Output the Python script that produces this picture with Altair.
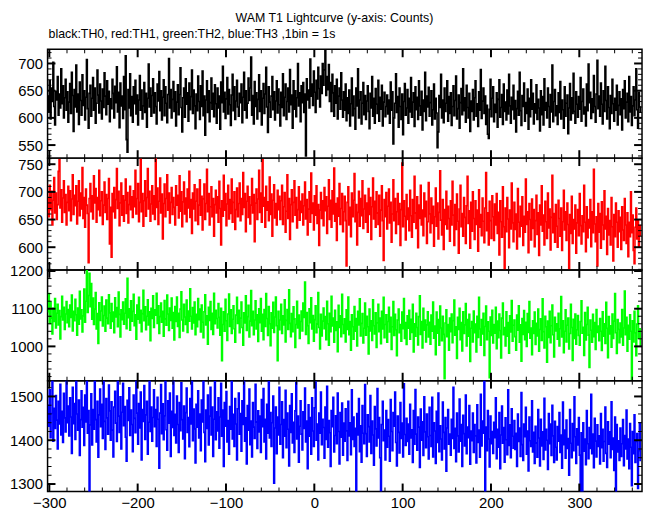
import altair as alt
import pandas as pd

TITLE = "WAM T1 Lightcurve (y-axis: Counts)"
SUBTITLE = "black:TH0, red:TH1, green:TH2, blue:TH3 ,1bin = 1s"
T_START = -302
X_DOMAIN = [-302, 371]
X_MAJOR = [-300, -200, -100, 0, 100, 200, 300]
X_MINOR = [v for v in range(-300, 371, 20) if v % 100 != 0]

th0 = [
640, 612, 668, 598, 655, 630, 702, 621, 587, 649, 633, 676, 605, 644, 618, 690, 626, 659, 600, 637, 671, 614, 648, 592,
629, 663, 608, 684, 641, 575, 652, 620, 697, 611, 644, 588, 666, 632, 605, 679, 623, 650, 596, 638, 707, 617, 581, 645,
660, 603, 636, 674, 614, 655, 590, 627, 688, 642, 609, 662, 631, 598, 653, 619, 683, 640, 606, 668, 625, 649, 593, 635,
617, 671, 645, 600, 658, 628, 694, 611, 647, 582, 664, 622, 640, 599, 676, 615, 714, 560, 537, 652, 618, 681, 604, 639,
592, 657, 626, 669, 607, 642, 587, 633, 678, 614, 651, 598, 622, 665, 610, 645, 583, 636, 699, 620, 655, 603, 641, 672,
609, 646, 621, 589, 662, 631, 685, 613, 650, 596, 638, 670, 604, 657, 627, 591, 643, 709, 618, 652, 600, 634, 667, 612,
648, 585, 629, 661, 606, 643, 692, 619, 574, 637, 655, 601, 672, 625, 646, 594, 664, 615, 639, 688, 608, 651, 622, 580,
644, 613, 677, 630, 597, 659, 621, 686, 604, 640, 568, 633, 668, 610, 650, 593, 628, 673, 616, 645, 602, 661, 626, 590,
655, 618, 640, 579, 666, 628, 695, 611, 647, 599, 635, 674, 607, 652, 624, 586, 642, 680, 613, 657, 597, 631, 669, 620,
603, 645, 628, 662, 591, 638, 684, 614, 650, 600, 627, 673, 632, 655, 712, 605, 641, 589, 667, 621, 646, 598, 634, 679,
612, 650, 587, 636, 663, 608, 644, 693, 620, 573, 657, 629, 601, 640, 676, 615, 648, 596, 631, 668, 609, 653, 624, 585,
647, 619, 681, 604, 638, 662, 597, 630, 655, 611, 689, 624, 642, 581, 668, 616, 650, 602, 637, 700, 622, 646, 593, 659,
628, 665, 610, 644, 530, 672, 633, 651, 618, 708, 640, 662, 623, 686, 647, 610, 669, 635, 693, 654, 620, 677, 645, 700,
660, 688, 724, 641, 676, 652, 698, 630, 665, 612, 680, 646, 603, 659, 627, 671, 598, 640, 655, 616, 683, 633, 601, 648,
614, 662, 595, 637, 608, 651, 585, 626, 673, 604, 640, 617, 579, 655, 622, 690, 600, 633, 648, 589, 627, 665, 606, 641,
597, 631, 659, 612, 580, 645, 618, 676, 603, 636, 590, 654, 625, 608, 669, 594, 638, 616, 660, 585, 629, 647, 602, 621,
642, 607, 633, 590, 666, 614, 648, 552, 600, 627, 681, 610, 639, 583, 655, 621, 597, 644, 569, 630, 663, 605, 618, 652,
590, 636, 611, 674, 601, 629, 646, 584, 657, 615, 638, 597, 668, 622, 605, 649, 578, 633, 612, 684, 595, 640, 620, 656,
603, 628, 650, 587, 615, 662, 598, 636, 609, 545, 574, 641, 619, 680, 600, 633, 591, 655, 612, 627, 668, 594, 639, 608,
646, 586, 621, 659, 604, 632, 677, 598, 617, 642, 581, 628, 654, 606, 690, 613, 637, 592, 660, 619, 600, 645, 575, 631,
612, 652, 596, 637, 668, 603, 626, 584, 648, 614, 689, 599, 631, 655, 608, 640, 588, 623, 570, 562, 616, 671, 602, 636,
657, 593, 625, 610, 646, 583, 634, 670, 601, 619, 643, 588, 662, 612, 629, 596, 651, 607, 680, 622, 590, 638, 615, 660,
598, 632, 574, 617, 649, 605, 684, 613, 586, 641, 621, 664, 594, 628, 608, 653, 579, 636, 602, 670, 616, 645, 589, 626,
609, 661, 597, 634, 618, 576, 650, 606, 639, 587, 672, 614, 628, 600, 655, 621, 583, 643, 611, 697, 593, 630, 652, 604,
622, 588, 646, 610, 667, 598, 633, 615, 581, 657, 603, 627, 642, 571, 618, 663, 596, 637, 608, 682, 612, 590, 648, 625,
601, 639, 616, 674, 594, 630, 653, 607, 620, 585, 662, 613, 699, 628, 647, 599, 635, 610, 678, 621, 592, 644, 706, 617,
640, 603, 664, 625, 589, 650, 612, 695, 632, 598, 657, 619, 580, 641, 608, 671, 626, 594, 636, 614, 660, 587, 623, 648,
606, 635, 578, 652, 617, 668, 600, 629, 645, 593, 676, 611, 639, 586, 622, 657, 604, 633, 690, 615, 581, 647, 620, 609,
]

th1 = [
690, 655, 712, 668, 701, 640, 685, 726, 662, 698, 650, 677, 737, 758, 671, 704, 645, 689, 720, 663, 695, 640, 681, 710,
666, 702, 648, 687, 731, 659, 694, 675, 711, 642, 683, 720, 657, 698, 669, 744, 652, 690, 636, 705, 676, 661, 572, 688,
715, 664, 693, 651, 729, 680, 706, 645, 690, 668, 739, 657, 684, 700, 641, 676, 718, 663, 695, 650, 688, 724, 606, 672,
582, 697, 664, 708, 653, 686, 742, 670, 701, 639, 680, 716, 658, 693, 647, 685, 723, 661, 699, 644, 677, 710, 668, 691,
654, 702, 673, 739, 660, 688, 715, 646, 681, 759, 664, 697, 638, 684, 720, 656, 690, 742, 669, 701, 647, 678, 711, 660,
693, 650, 760, 672, 707, 641, 683, 725, 662, 696, 615, 679, 714, 655, 688, 731, 667, 698, 644, 681, 708, 659, 690, 672,
640, 711, 676, 694, 653, 729, 665, 700, 637, 682, 718, 660, 689, 646, 705, 671, 737, 654, 686, 625, 698, 669, 713, 648,
683, 705, 641, 676, 722, 658, 692, 631, 687, 714, 650, 679, 741, 664, 697, 640, 673, 709, 655, 688, 620, 677, 703, 662,
691, 645, 719, 670, 604, 684, 656, 730, 667, 697, 639, 678, 712, 651, 686, 661, 723, 645, 681, 700, 632, 668, 707, 655,
679, 716, 648, 688, 659, 735, 672, 697, 628, 683, 710, 654, 691, 642, 676, 724, 662, 695, 610, 680, 705, 650, 687, 739,
663, 698, 645, 758, 674, 690, 636, 710, 667, 682, 648, 727, 659, 696, 620, 685, 713, 653, 679, 640, 703, 668, 692, 650,
684, 712, 641, 673, 699, 627, 665, 731, 652, 688, 614, 677, 704, 646, 681, 720, 658, 690, 635, 668, 709, 649, 683, 663,
696, 640, 675, 718, 651, 686, 622, 669, 700, 645, 734, 661, 680, 631, 693, 658, 711, 643, 677, 603, 667, 699, 652, 684,
639, 708, 666, 691, 625, 674, 722, 650, 685, 636, 702, 660, 743, 647, 679, 612, 689, 656, 715, 641, 670, 697, 628, 664,
692, 648, 566, 681, 709, 640, 672, 619, 698, 655, 685, 733, 646, 677, 604, 663, 701, 638, 688, 657, 720, 634, 669, 694,
645, 680, 627, 706, 659, 690, 614, 673, 725, 651, 683, 636, 700, 662, 641, 694, 620, 667, 711, 648, 576, 686, 655, 699,
633, 674, 705, 644, 681, 609, 660, 722, 648, 688, 625, 664, 697, 641, 679, 603, 668, 752, 637, 684, 656, 613, 695, 650,
671, 630, 703, 657, 618, 686, 645, 728, 662, 634, 691, 599, 676, 652, 712, 640, 667, 621, 698, 655, 683, 607, 646, 717,
660, 626, 689, 643, 674, 602, 655, 707, 638, 680, 615, 663, 738, 649, 622, 686, 596, 668, 641, 701, 633, 674, 652, 611,
684, 640, 719, 658, 603, 677, 632, 696, 647, 589, 669, 712, 637, 661, 620, 690, 654, 607, 675, 728, 643, 666, 598, 681,
629, 700, 652, 614, 684, 641, 667, 593, 704, 636, 659, 621, 689, 647, 608, 671, 735, 630, 662, 604, 683, 648, 616, 693,
655, 612, 678, 640, 697, 625, 663, 586, 684, 646, 618, 709, 637, 560, 671, 628, 690, 651, 599, 667, 633, 716, 644, 610,
681, 632, 660, 597, 706, 645, 619, 674, 638, 691, 603, 656, 627, 723, 641, 664, 590, 679, 650, 613, 687, 634, 668, 601,
648, 694, 623, 662, 585, 676, 640, 711, 629, 658, 604, 683, 646, 616, 698, 635, 669, 595, 654, 730, 626, 661, 609, 677,
638, 600, 685, 652, 620, 671, 594, 646, 703, 631, 664, 612, 680, 641, 560, 659, 625, 692, 607, 650, 633, 676, 589, 644,
668, 621, 697, 639, 606, 657, 628, 712, 645, 592, 673, 617, 650, 635, 686, 601, 664, 626, 741, 642, 610, 655, 566, 679,
627, 661, 598, 682, 640, 614, 702, 633, 656, 587, 670, 622, 648, 604, 690, 637, 575, 659, 619, 680, 645, 600, 666, 628,
654, 596, 673, 631, 612, 688, 640, 607, 662, 583, 645, 619, 700, 626, 658, 594, 570, 636, 671, 615, 648, 602, 639, 620,
]

th2 = [
1092, 1140, 1061, 1118, 1075, 1033, 1101, 1066, 1127, 1049, 1088, 1112, 1057, 1095, 1020, 1079, 1133, 1070, 1104, 1045, 1086, 1119, 1063, 1098,
1052, 1110, 1077, 1136, 1041, 1093, 1068, 1125, 1084, 1030, 1102, 1059, 1146, 1073, 1097, 1038, 1081, 1152, 1064, 1120, 1201, 1090, 1135, 1194,
1105, 1167, 1072, 1128, 1058, 1099, 1143, 1046, 1087, 1008, 1116, 1069, 1094, 1131, 1054, 1082, 1107, 1040, 1123, 1075, 1060, 1137, 1089, 1048,
1114, 1066, 1091, 1036, 1129, 1078, 1103, 1052, 1144, 1085, 1025, 1097, 1071, 1118, 1059, 1088, 1126, 1047, 1181, 1076, 1100, 1043, 1121, 1067,
1093, 1138, 1055, 1084, 1019, 1110, 1072, 1130, 1062, 1096, 1039, 1087, 1149, 1068, 1105, 1044, 1080, 1124, 1057, 1092, 1015, 1101, 1074, 1134,
1050, 1097, 1083, 1141, 1061, 1108, 1034, 1079, 1115, 1064, 1093, 1027, 1122, 1073, 1056, 1136, 1086, 1042, 1102, 1069, 1128, 1048, 1090, 1017,
1106, 1066, 1131, 1053, 1088, 1024, 1099, 1145, 1070, 1041, 1112, 1078, 1058, 1123, 1037, 1094, 1067, 1153, 1080, 1046, 1103, 1062, 1118, 1031,
1085, 1052, 1127, 1071, 1099, 1038, 1110, 1064, 1023, 1092, 1137, 1057, 1081, 1006, 1104, 1069, 1119, 1045, 1088, 1032, 1141, 1060, 1096, 1074,
1049, 1114, 1077, 1030, 1101, 962, 1058, 1092, 1040, 1125, 1068, 1016, 1086, 1139, 1053, 1097, 1034, 1072, 1108, 1047, 1011, 1083, 1130, 1061,
1096, 1036, 1075, 1118, 1050, 1003, 1089, 1062, 1134, 1042, 1079, 1109, 1025, 1067, 1148, 1055, 1093, 1031, 1070, 1121, 1046, 1084, 1013, 1100,
1063, 1127, 1040, 1085, 1018, 1098, 1053, 1140, 1074, 1029, 1106, 1060, 1002, 1089, 1048, 1117, 1037, 1078, 1131, 1055, 962, 1093, 1044, 1070,
1112, 1034, 1081, 1057, 1124, 1012, 1069, 1098, 1045, 1150, 1061, 1026, 1087, 1039, 1105, 1073, 997, 1058, 1120, 1049, 1083, 1021, 1066, 1094,
1041, 1115, 1077, 1171, 1032, 1090, 1055, 1008, 1100, 1063, 1129, 1046, 1082, 1014, 1071, 1108, 1036, 1059, 1143, 1050, 993, 1085, 1028, 1067,
1102, 1047, 1079, 1018, 1120, 1060, 1003, 1088, 1039, 1133, 1054, 1075, 1011, 1096, 1042, 1065, 986, 1109, 1050, 1081, 1026, 1138, 1058, 1034,
1073, 1012, 1097, 1045, 1131, 1031, 1066, 990, 1084, 1052, 1019, 1106, 1040, 1074, 1001, 1093, 1057, 1126, 1028, 1061, 1087, 1009, 1048, 1115,
1030, 1080, 1052, 980, 1099, 1041, 1068, 1016, 1124, 1055, 1033, 1089, 997, 1062, 1112, 1039, 1075, 1007, 1093, 1046, 1130, 1023, 1058, 1084,
1011, 1066, 1104, 1038, 1077, 992, 1052, 1119, 1029, 1085, 1044, 975, 1070, 1099, 1036, 1058, 1014, 1091, 1047, 1127, 1021, 1063, 1005, 1081,
1048, 1096, 1019, 1072, 1037, 1112, 985, 1060, 1027, 1088, 1050, 1004, 1079, 1134, 1032, 1066, 996, 1101, 1043, 1070, 1012, 1057, 1092, 1025,
1064, 1006, 1083, 1040, 1118, 1022, 1054, 978, 1091, 1035, 1071, 1003, 1107, 1049, 1015, 1080, 1032, 914, 1062, 1097, 1026, 1058, 990, 1075,
1039, 1086, 1010, 1068, 1123, 1030, 1052, 968, 1077, 1045, 1101, 1018, 1063, 988, 1092, 1034, 1057, 1114, 1001, 1071, 1027, 1085, 960, 1048,
1066, 1012, 1094, 1036, 1059, 985, 1080, 1024, 1130, 1046, 1003, 1071, 1033, 1088, 976, 1053, 1107, 1018, 1065, 1040, 917, 1078, 1029, 1096,
1009, 1058, 1035, 1104, 994, 1067, 1023, 1086, 1042, 969, 1075, 1115, 1031, 1050, 1001, 1092, 1027, 1063, 982, 1081, 1038, 1122, 1014, 1056,
1070, 1026, 990, 1083, 1043, 1108, 1011, 1057, 961, 1074, 1032, 1095, 1018, 1064, 1000, 1087, 1037, 1119, 1022, 1049, 978, 1068, 1034, 1091,
1005, 1061, 1028, 1099, 987, 1045, 1073, 1016, 1126, 1039, 996, 1080, 1052, 958, 1067, 1024, 1093, 1010, 1055, 1110, 1031, 972, 1077, 1041,
1060, 1019, 1088, 1001, 1047, 1132, 1025, 1068, 983, 1040, 1097, 1012, 1056, 1075, 993, 1034, 1112, 1050, 963, 1072, 1021, 1086, 1006, 1044,
1082, 1029, 1003, 1066, 1121, 1035, 1051, 976, 1090, 1017, 1058, 1104, 1030, 944, 1070, 1043, 1011, 1085, 1026, 1063, 992, 1098, 1037, 1054,
1015, 1074, 1040, 989, 1092, 1027, 1060, 1008, 1117, 1048, 970, 1079, 1033, 1055, 998, 1086, 1021, 1067, 1140, 1036, 981, 1071, 1045, 1010,
1062, 1025, 1098, 1003, 1049, 1147, 1031, 1077, 987, 1056, 1019, 1084, 1040, 913, 1068, 1012, 1093, 1036, 975, 1059, 1108, 1022, 1047, 1001,
]

th3 = [
1480, 1432, 1515, 1406, 1461, 1540, 1398, 1473, 1427, 1502, 1446, 1380, 1489, 1437, 1528, 1412, 1466, 1395, 1507, 1451, 1419, 1545, 1440, 1478,
1410, 1497, 1453, 1370, 1521, 1438, 1484, 1402, 1538, 1460, 1423, 1492, 1365, 1447, 1513, 1430, 1475, 1388, 1503, 1442, 1540, 1416, 1468, 1278,
1435, 1506, 1389, 1470, 1425, 1548, 1447, 1396, 1489, 1361, 1458, 1517, 1431, 1482, 1404, 1539, 1443, 1379, 1495, 1451, 1414, 1526, 1467, 1400,
1488, 1423, 1362, 1476, 1512, 1439, 1397, 1541, 1455, 1418, 1499, 1380, 1464, 1530, 1433, 1477, 1407, 1352, 1491, 1445, 1520, 1411, 1469, 1436,
1374, 1503, 1450, 1417, 1537, 1462, 1391, 1484, 1428, 1510, 1355, 1470, 1443, 1525, 1402, 1458, 1489, 1368, 1441, 1539, 1420, 1476, 1398, 1452,
1515, 1431, 1470, 1386, 1498, 1448, 1336, 1462, 1527, 1415, 1483, 1401, 1456, 1545, 1424, 1377, 1490, 1439, 1508, 1363, 1466, 1429, 1540, 1411,
1459, 1394, 1501, 1436, 1372, 1486, 1422, 1531, 1447, 1403, 1478, 1358, 1463, 1519, 1418, 1452, 1385, 1495, 1437, 1546, 1399, 1471, 1426, 1348,
1482, 1430, 1513, 1405, 1460, 1376, 1492, 1442, 1539, 1418, 1351, 1469, 1427, 1503, 1389, 1455, 1521, 1412, 1476, 1363, 1448, 1534, 1401, 1465,
1421, 1497, 1382, 1453, 1530, 1409, 1469, 1340, 1486, 1432, 1511, 1396, 1445, 1368, 1477, 1425, 1543, 1403, 1459, 1386, 1495, 1437, 1355, 1472,
1508, 1414, 1461, 1375, 1490, 1436, 1536, 1398, 1451, 1346, 1479, 1423, 1517, 1390, 1444, 1362, 1486, 1430, 1404, 1528, 1442, 1381, 1467, 1419,
1455, 1372, 1493, 1431, 1518, 1396, 1448, 1357, 1482, 1416, 1534, 1405, 1463, 1386, 1440, 1501, 1302, 1428, 1476, 1369, 1453, 1412, 1521, 1391,
1436, 1488, 1360, 1447, 1409, 1514, 1383, 1462, 1425, 1341, 1479, 1418, 1506, 1394, 1441, 1372, 1467, 1531, 1403, 1455, 1350, 1432, 1490, 1414,
1378, 1465, 1427, 1519, 1396, 1444, 1335, 1481, 1409, 1452, 1368, 1497, 1421, 1386, 1474, 1533, 1400, 1437, 1355, 1462, 1416, 1510, 1390, 1448,
1429, 1359, 1476, 1402, 1523, 1384, 1445, 1417, 1340, 1468, 1431, 1498, 1373, 1411, 1456, 1392, 1508, 1420, 1346, 1463, 1407, 1485, 1366, 1439,
1398, 1472, 1421, 1354, 1489, 1410, 1440, 1367, 1515, 1402, 1453, 1386, 1427, 1279, 1461, 1412, 1495, 1374, 1433, 1350, 1479, 1416, 1392, 1527,
1415, 1363, 1458, 1431, 1396, 1502, 1370, 1444, 1412, 1343, 1477, 1426, 1387, 1518, 1405, 1452, 1360, 1284, 1436, 1489, 1399, 1423, 1355, 1468,
1384, 1447, 1409, 1352, 1493, 1420, 1376, 1463, 1432, 1510, 1395, 1341, 1455, 1418, 1371, 1486, 1404, 1439, 1362, 1529, 1413, 1388, 1450, 1397,
1437, 1368, 1482, 1405, 1424, 1349, 1468, 1391, 1516, 1414, 1377, 1453, 1430, 1338, 1471, 1400, 1442, 1365, 1499, 1419, 1383, 1460, 1408, 1357,
1475, 1411, 1386, 1498, 1362, 1440, 1421, 1347, 1466, 1395, 1508, 1374, 1433, 1403, 1355, 1487, 1418, 1380, 1452, 1329, 1428, 1470, 1391, 1414,
1366, 1448, 1404, 1521, 1381, 1427, 1351, 1462, 1410, 1373, 1494, 1398, 1436, 1340, 1457, 1415, 1387, 1503, 1369, 1430, 1406, 1479, 1345, 1421,
1399, 1462, 1372, 1436, 1410, 1348, 1481, 1395, 1423, 1361, 1505, 1387, 1444, 1416, 1541, 1281, 1430, 1376, 1468, 1403, 1339, 1455, 1392, 1420,
1370, 1441, 1406, 1497, 1358, 1425, 1384, 1463, 1335, 1412, 1478, 1393, 1429, 1350, 1451, 1401, 1367, 1515, 1388, 1435, 1360, 1472, 1409, 1382,
1445, 1379, 1416, 1340, 1460, 1397, 1428, 1363, 1509, 1390, 1354, 1437, 1408, 1475, 1368, 1421, 1330, 1453, 1399, 1386, 1490, 1373, 1418, 1347,
1432, 1394, 1361, 1470, 1405, 1341, 1448, 1387, 1419, 1356, 1496, 1378, 1425, 1400, 1333, 1461, 1392, 1437, 1365, 1480, 1410, 1349, 1443, 1384,
1355, 1431, 1398, 1463, 1372, 1412, 1336, 1487, 1390, 1423, 1359, 1446, 1381, 1404, 1320, 1470, 1393, 1360, 1438, 1376, 1499, 1408, 1347, 1426,
1389, 1452, 1366, 1283, 1417, 1281, 1440, 1375, 1403, 1344, 1468, 1392, 1358, 1429, 1381, 1505, 1369, 1414, 1337, 1450, 1398, 1362, 1435, 1386,
1410, 1346, 1461, 1383, 1425, 1352, 1397, 1476, 1370, 1338, 1442, 1391, 1419, 1360, 1488, 1379, 1405, 1331, 1453, 1282, 1436, 1373, 1399, 1354,
1428, 1363, 1392, 1447, 1342, 1411, 1380, 1469, 1357, 1403, 1335, 1438, 1384, 1296, 1420, 1369, 1458, 1349, 1397, 1415, 1290, 1376, 1440, 1352,
]

PANELS = [
    # values, colour, y domain, major ticks, minor ticks, height
    (th0, "#000000", [526, 726], [550, 600, 650, 700], [v for v in range(530, 726, 10) if v % 50 != 0], 110),
    (th1, "#ff0000", [559, 761], [600, 650, 700, 750], [v for v in range(560, 761, 10) if v % 50 != 0], 113),
    (th2, "#00ff00", [909, 1203], [1000, 1100, 1200], [v for v in range(920, 1203, 20) if v % 100 != 0], 112),
    (th3, "#0000ff", [1283, 1536], [1300, 1400, 1500], [v for v in range(1300, 1536, 20) if v % 100 != 0], 112),
]

W = 601


def make_panel(vals, color, ydom, ymaj, ymin, h, first=False, last=False):
    df = pd.DataFrame({"t": [T_START + i for i in range(len(vals))], "c": vals})
    xs = alt.Scale(domain=X_DOMAIN, nice=False, zero=False)
    ys = alt.Scale(domain=ydom, nice=False, zero=False)
    if last:
        xaxis = alt.Axis(values=X_MAJOR, ticks=False, domain=False, grid=False, format="d",
                         labelPadding=4, labelFlush=False, labelOverlap=False, title=None)
    else:
        xaxis = None
    yaxis = alt.Axis(values=ymaj, ticks=False, domain=False, grid=False, format="d",
                     labelPadding=5, labelFlush=False, labelOverlap=False, title=None)
    line = alt.Chart(df).mark_line(color=color, strokeWidth=1.6, interpolate="step-after", clip=True).encode(
        x=alt.X("t:Q", scale=xs, axis=xaxis, title=None),
        y=alt.Y("c:Q", scale=ys, axis=yaxis, title=None),
    )
    layers = [line]
    for tv, L, sw in [(X_MAJOR, 8, 2), (X_MINOR, 4, 1)]:
        d = pd.DataFrame({"t": tv})
        for y0, y1 in [(0, L), (h, h - L)]:
            layers.append(
                alt.Chart(d).mark_rule(color="black", strokeWidth=sw).encode(
                    x=alt.X("t:Q", scale=xs, axis=xaxis, title=None),
                    y=alt.value(y0), y2=alt.value(y1),
                )
            )
    for tv, L, sw in [(ymaj, 8, 2), (ymin, 4, 1)]:
        d = pd.DataFrame({"c": tv})
        for x0, x1 in [(0, L), (W, W - L)]:
            layers.append(
                alt.Chart(d).mark_rule(color="black", strokeWidth=sw).encode(
                    y=alt.Y("c:Q", scale=ys, axis=yaxis, title=None),
                    x=alt.value(x0), x2=alt.value(x1),
                )
            )
    if first:
        layers.append(
            alt.Chart(pd.DataFrame({"s": [TITLE]})).mark_text(
                align="center", baseline="alphabetic", fontSize=12.5, font="Liberation Sans", color="black"
            ).encode(text="s:N", x=alt.value(290), y=alt.value(-28))
        )
        layers.append(
            alt.Chart(pd.DataFrame({"s": [SUBTITLE]})).mark_text(
                align="left", baseline="alphabetic", fontSize=12.5, font="Liberation Sans", color="black"
            ).encode(text="s:N", x=alt.value(1), y=alt.value(-11))
        )
    return alt.layer(*layers).properties(width=W, height=h)


charts = []
for i, (vals, color, ydom, ymaj, ymin, h) in enumerate(PANELS):
    charts.append(make_panel(vals, color, ydom, ymaj, ymin, h, first=(i == 0), last=(i == len(PANELS) - 1)))

chart = (
    alt.vconcat(*charts, spacing=0, bounds="flush")
    .resolve_scale(x="independent", y="independent")
    .properties(padding={"left": 0, "top": 0, "right": 0, "bottom": 0})
    .configure_view(stroke="black", strokeWidth=1.5)
    .configure_axis(labelFont="Liberation Sans", labelFontSize=15, labelColor="black")
)

chart.save("out.html", embed_options={"renderer": "svg", "actions": False})
